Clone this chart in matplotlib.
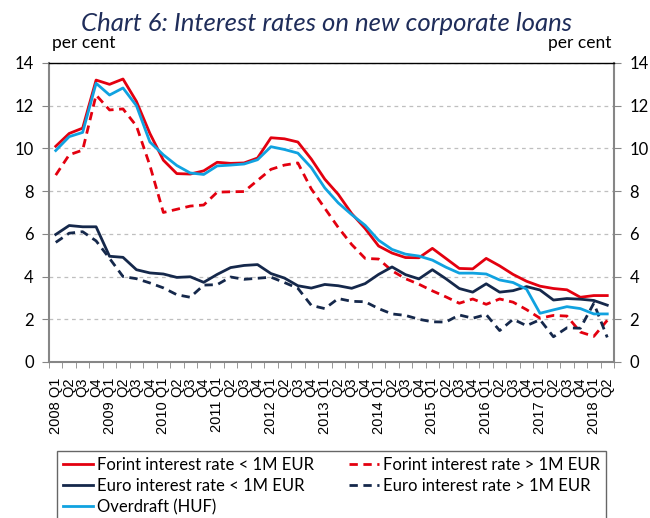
import matplotlib.pyplot as plt
import numpy as np

plt.rcParams['font.family'] = ['Lato', 'DejaVu Sans']

# quarters 2008 Q1 - 2018 Q2
quarters = []
for yr in range(2008, 2019):
    for q in range(1, 5):
        if yr == 2018 and q > 2:
            break
        quarters.append(f"{yr} Q1" if q == 1 else f"Q{q}")

forint_small = [10.1, 10.7, 10.95, 13.2, 13.0, 13.25, 12.2, 10.7, 9.45, 8.82,
                8.8, 8.95, 9.35, 9.3, 9.32, 9.55, 10.5, 10.45, 10.3, 9.5,
                8.56, 7.85, 6.95, 6.25, 5.43, 5.1, 4.89, 4.88, 5.32, 4.85,
                4.38, 4.36, 4.85, 4.5, 4.1, 3.78, 3.55, 3.44, 3.38, 3.03,
                3.11, 3.11]
forint_large = [8.75, 9.7, 9.92, 12.5, 11.8, 11.85, 11.05, 9.2, 7.0, 7.15,
                7.3, 7.35, 7.95, 7.97, 7.98, 8.5, 9.02, 9.22, 9.32, 8.1,
                7.2, 6.3, 5.5, 4.85, 4.82, 4.27, 3.9, 3.64, 3.33, 3.05,
                2.75, 2.95, 2.7, 2.95, 2.8, 2.45, 2.05, 2.18, 2.15, 1.4,
                1.2, 1.95]
euro_small = [5.97, 6.39, 6.33, 6.33, 4.95, 4.9, 4.32, 4.17, 4.12, 3.96,
              3.99, 3.73, 4.1, 4.42, 4.52, 4.56, 4.14, 3.93, 3.57, 3.46,
              3.63, 3.57, 3.45, 3.67, 4.1, 4.45, 4.09, 3.89, 4.32, 3.9,
              3.44, 3.27, 3.66, 3.27, 3.34, 3.53, 3.37, 2.9, 2.97, 2.94,
              2.88, 2.66]
euro_large = [5.6, 6.03, 6.1, 5.67, 4.85, 4.0, 3.9, 3.7, 3.47, 3.15,
              3.03, 3.6, 3.62, 3.98, 3.87, 3.92, 3.97, 3.72, 3.45, 2.65,
              2.5, 2.97, 2.84, 2.82, 2.5, 2.25, 2.18, 2.0, 1.88, 1.87,
              2.2, 2.05, 2.22, 1.47, 2.0, 1.7, 1.98, 1.18, 1.6, 1.58,
              2.75, 1.15]
overdraft = [9.9, 10.55, 10.75, 13.05, 12.5, 12.83, 12.0, 10.3, 9.7, 9.2,
             8.85, 8.78, 9.18, 9.22, 9.27, 9.47, 10.08, 9.95, 9.78, 9.1,
             8.15, 7.45, 6.9, 6.4, 5.7, 5.27, 5.05, 4.96, 4.77, 4.44,
             4.16, 4.16, 4.12, 3.84, 3.72, 3.41, 2.28, 2.44, 2.59, 2.5,
             2.25, 2.25]

series_names = ['Forint interest rate < 1M EUR', 'Forint interest rate > 1M EUR',
                'Euro interest rate < 1M EUR', 'Euro interest rate > 1M EUR',
                'Overdraft (HUF)']

red = '#E3000F'
navy = '#15284B'
light_blue = '#10A2E0'
dash = (0, (3, 2))

fig = plt.figure(figsize=(6.5, 5.18), dpi=100)
ax = fig.add_axes([0.0754, 0.3012, 0.8692, 0.5772])
x = np.arange(len(quarters))

lines = []
lines += ax.plot(x, forint_small, color=red, lw=2)
lines += ax.plot(x, forint_large, color=red, lw=2, ls=dash)
lines += ax.plot(x, euro_small, color=navy, lw=2)
lines += ax.plot(x, euro_large, color=navy, lw=2, ls=dash)
lines += ax.plot(x, overdraft, color=light_blue, lw=2)

ax.set_xlim(-0.5, len(quarters) - 0.5)
ax.set_ylim(0, 14)
ax.set_yticks(range(0, 15, 2))
ax.set_xticks(x)
ax.set_xticklabels(quarters, rotation=90, fontsize=10.5, family='Liberation Sans')
ax.set_xticks(np.arange(-0.5, len(quarters), 1), minor=True)
ax.tick_params(axis='x', which='major', length=0, pad=11)
ax.tick_params(axis='x', which='minor', length=4, direction='out', color='#868686')
ax.tick_params(axis='y', left=True, right=True, labelleft=True, labelright=True,
               length=5, color='#868686', labelsize=12, pad=6)

ax.yaxis.grid(True, ls=(0, (3, 3)), color='#BFBFBF', lw=0.9)
ax.set_axisbelow(True)

for side in ['left', 'right', 'bottom']:
    ax.spines[side].set_color('#868686')
    ax.spines[side].set_linewidth(1.5)
ax.spines['top'].set_color('black')
ax.spines['top'].set_linewidth(1.0)

ax.text(0.005, 1.05, 'per cent', transform=ax.transAxes, ha='left', va='baseline', fontsize=12.5)
ax.text(0.995, 1.05, 'per cent', transform=ax.transAxes, ha='right', va='baseline', fontsize=12.5)

fig.text(0.503, 0.955, 'Chart 6: Interest rates on new corporate loans', ha='center', va='center',
         fontsize=18.5, style='italic', color='#1F2D5A')

order = [0, 2, 4, 1, 3]
leg = fig.legend([lines[i] for i in order], [series_names[i] for i in order],
                 loc='upper left', bbox_to_anchor=(0.0754, 0.045, 0.8692, 0.1), mode='expand',
                 ncol=2, fancybox=False, edgecolor='#404040', fontsize=12,
                 handlelength=1.8, handletextpad=0.25, labelspacing=0.3, borderpad=0.35)
leg.get_frame().set_linewidth(1.0)

fig.savefig('out.png', dpi=100)
